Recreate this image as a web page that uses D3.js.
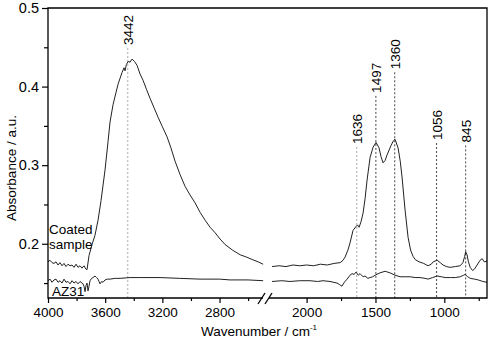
<!DOCTYPE html>
<html>
<head>
<meta charset="utf-8">
<script src="https://cdn.jsdelivr.net/npm/d3@7"></script>
<style>
  body { margin: 0; background: #fff; }
  text { font-family: "Liberation Sans", Arial, sans-serif; }
</style>
</head>
<body>
<svg id="chart" width="490" height="349"></svg>
<script>
// spectra: [wavenumber cm-1, absorbance]
var coatedHigh = [
  [4000,0.177],[3986,0.179],[3972,0.176],[3958,0.175],[3944,0.177],[3930,0.173],[3916,0.176],
  [3902,0.172],[3888,0.175],[3874,0.171],[3860,0.174],[3846,0.172],[3832,0.173],[3818,0.170],
  [3804,0.174],[3790,0.170],[3776,0.172],[3762,0.169],[3748,0.172],[3736,0.168],[3727,0.167],
  [3713,0.185],[3692,0.199],[3671,0.211],[3650,0.230],[3629,0.255],[3601,0.294],[3580,0.330],
  [3566,0.355],[3545,0.377],[3510,0.403],[3482,0.418],[3468,0.424],[3461,0.420],[3452,0.428],
  [3440,0.432],[3426,0.431],[3412,0.435],[3395,0.432],[3377,0.427],[3356,0.416],[3335,0.408],
  [3310,0.396],[3286,0.385],[3258,0.373],[3230,0.361],[3200,0.349],[3167,0.336],[3140,0.322],
  [3111,0.305],[3076,0.288],[3041,0.273],[3006,0.262],[2971,0.252],[2936,0.240],[2901,0.230],
  [2866,0.221],[2831,0.214],[2796,0.206],[2761,0.199],[2710,0.192],[2656,0.186],[2610,0.183],
  [2572,0.180],[2530,0.177],[2495,0.174]
];
var coatedLow = [
  [2251,0.171],[2200,0.172],[2150,0.171],[2100,0.173],[2050,0.172],[2000,0.173],[1950,0.172],
  [1900,0.174],[1850,0.173],[1800,0.175],[1757,0.176],[1735,0.179],[1721,0.183],[1700,0.192],
  [1685,0.201],[1663,0.217],[1641,0.222],[1630,0.224],[1619,0.221],[1605,0.228],[1590,0.239],
  [1575,0.258],[1561,0.281],[1539,0.310],[1517,0.323],[1496,0.329],[1474,0.322],[1460,0.311],
  [1445,0.303],[1430,0.306],[1416,0.313],[1387,0.325],[1370,0.331],[1358,0.333],[1336,0.322],
  [1320,0.305],[1307,0.285],[1285,0.243],[1263,0.208],[1245,0.192],[1227,0.184],[1212,0.180],
  [1183,0.177],[1150,0.175],[1118,0.172],[1095,0.174],[1081,0.177],[1052,0.179],[1030,0.176],
  [1009,0.173],[985,0.171],[958,0.170],[920,0.171],[885,0.172],[865,0.176],[852,0.184],
  [845,0.190],[835,0.186],[825,0.177],[812,0.170],[795,0.166],[780,0.168],[762,0.173],
  [740,0.179],[725,0.181],[710,0.177],[690,0.178]
];
var az31High = [
  [4000,0.153],[3986,0.155],[3972,0.151],[3958,0.154],[3944,0.155],[3930,0.151],[3916,0.153],
  [3902,0.150],[3888,0.155],[3874,0.151],[3860,0.152],[3846,0.149],[3832,0.153],[3818,0.150],
  [3804,0.152],[3790,0.149],[3776,0.152],[3762,0.150],[3755,0.149],[3748,0.146],[3741,0.139],
  [3734,0.147],[3727,0.150],[3720,0.140],[3713,0.146],[3706,0.153],[3695,0.156],[3685,0.157],
  [3671,0.159],[3660,0.157],[3650,0.155],[3643,0.152],[3636,0.149],[3625,0.152],[3615,0.151],
  [3601,0.154],[3585,0.155],[3566,0.155],[3530,0.156],[3496,0.156],[3426,0.157],[3350,0.157],
  [3216,0.157],[3080,0.156],[2936,0.155],[2800,0.155],[2726,0.154],[2600,0.154],[2495,0.153]
];
var az31Low = [
  [2251,0.152],[2180,0.153],[2121,0.152],[2050,0.153],[1975,0.153],[1920,0.152],[1881,0.153],
  [1830,0.152],[1779,0.150],[1760,0.148],[1743,0.146],[1730,0.150],[1721,0.152],[1706,0.155],
  [1685,0.160],[1670,0.162],[1655,0.161],[1641,0.164],[1625,0.160],[1612,0.162],[1590,0.158],
  [1576,0.159],[1555,0.156],[1539,0.157],[1520,0.158],[1503,0.160],[1467,0.163],[1430,0.165],
  [1394,0.163],[1358,0.160],[1321,0.158],[1285,0.158],[1248,0.158],[1212,0.157],[1176,0.157],
  [1140,0.156],[1118,0.155],[1085,0.157],[1052,0.159],[1020,0.158],[994,0.157],[955,0.157],
  [921,0.157],[885,0.158],[860,0.160],[849,0.161],[830,0.158],[812,0.156],[780,0.155],
  [754,0.154],[720,0.152],[690,0.151]
];

var peaks = [3442, 1636, 1497, 1360, 1056, 845];
var peakLabelLevel = [0.453, 0.327, 0.392, 0.422, 0.332, 0.329];
var peakFaint = [true, true, false, false, false, false];

var yTicks = [0.2, 0.3, 0.4, 0.5];
var yMinor = [0.15, 0.25, 0.35, 0.45];
var xTicksHigh = [4000, 3600, 3200, 2800];
var xMinorHigh = [3800, 3400, 3000, 2600];
var xTicksLow = [2000, 1500, 1000];
var xMinorLow = [1750, 1250, 750];

var svg = d3.select('#chart');
var plotL = 48, plotR = 487, plotT = 8, plotB = 298, brk = 266;

var xHigh = d3.scaleLinear().domain([4000, 2475]).range([plotL, brk]);
var xLow = d3.scaleLinear().domain([2295, 690]).range([brk, plotR]);
var y = d3.scaleLinear().domain([0.131, 0.5]).range([plotB, plotT]);
var xAny = w => w > 2400 ? xHigh(w) : xLow(w);

// peak marker lines
peaks.forEach(function (p, i) {
    var x = xAny(p);
    svg.append('line')
        .attr('x1', x).attr('x2', x)
        .attr('y1', y(peakLabelLevel[i]) + 3).attr('y2', plotB)
        .attr('stroke', peakFaint[i] ? '#aaa' : '#444')
        .attr('stroke-width', 1)
        .attr('stroke-dasharray', '2,2');
    svg.append('text')
        .attr('transform', 'translate(' + (x + 5) + ',' + y(peakLabelLevel[i]) + ') rotate(-90)')
        .attr('font-size', 13.5)
        .text(p);
});

// spectra
var line = function (xs) {
    return d3.line().x(d => xs(d[0])).y(d => y(d[1]));
};
[[coatedHigh, xHigh], [coatedLow, xLow], [az31High, xHigh], [az31Low, xLow]].forEach(function (s) {
    svg.append('path')
        .attr('d', line(s[1])(s[0]))
        .attr('fill', 'none')
        .attr('stroke', '#222')
        .attr('stroke-width', 1);
});

// axes
function styleAxis(g) {
    g.select('.domain').remove();
    g.attr('font-family', '"Liberation Sans", Arial, sans-serif').attr('font-size', 13.5);
    g.selectAll('line').attr('stroke', '#000').attr('stroke-width', 1.2);
    g.selectAll('text').attr('fill', '#000');
}
svg.append('g').attr('transform', 'translate(0,' + plotB + ')')
    .call(d3.axisBottom(xHigh).tickValues(xTicksHigh).tickSize(5).tickPadding(4).tickFormat(d3.format('d')))
    .call(styleAxis);
svg.append('g').attr('transform', 'translate(0,' + plotB + ')')
    .call(d3.axisBottom(xHigh).tickValues(xMinorHigh).tickSize(3).tickFormat(''))
    .call(styleAxis);
svg.append('g').attr('transform', 'translate(0,' + plotB + ')')
    .call(d3.axisBottom(xLow).tickValues(xTicksLow).tickSize(5).tickPadding(4).tickFormat(d3.format('d')))
    .call(styleAxis);
svg.append('g').attr('transform', 'translate(0,' + plotB + ')')
    .call(d3.axisBottom(xLow).tickValues(xMinorLow).tickSize(3).tickFormat(''))
    .call(styleAxis);
svg.append('g').attr('transform', 'translate(' + plotL + ',0)')
    .call(d3.axisLeft(y).tickValues(yTicks).tickSize(6).tickPadding(3).tickFormat(d3.format('.1f')))
    .call(styleAxis)
    .attr('font-size', 14.5);
svg.append('g').attr('transform', 'translate(' + plotL + ',0)')
    .call(d3.axisLeft(y).tickValues(yMinor).tickSize(4).tickFormat(''))
    .call(styleAxis);

// frame with break on the bottom axis
var frame = svg.append('g').attr('stroke', '#000').attr('stroke-width', 1.3).attr('fill', 'none');
frame.append('path').attr('d', 'M' + (brk - 3) + ',' + plotB + 'H' + plotL + 'V' + plotT + 'H' + plotR + 'V' + plotB + 'H' + (brk + 3));
frame.append('line').attr('x1', brk - 8).attr('y1', plotB + 6).attr('x2', brk - 1).attr('y2', plotB - 5);
frame.append('line').attr('x1', brk - 1).attr('y1', plotB + 6).attr('x2', brk + 6).attr('y2', plotB - 5);

// axis titles and series names
var xt = svg.append('text').attr('x', 259).attr('y', 336).attr('text-anchor', 'middle').attr('font-size', 13.5);
xt.append('tspan').text('Wavenumber / cm');
xt.append('tspan').attr('dy', -6).attr('font-size', 8).text('-1');

svg.append('text')
    .attr('transform', 'translate(16,168) rotate(-90)')
    .attr('text-anchor', 'middle')
    .attr('font-size', 13.5)
    .text('Absorbance / a.u.');

svg.append('text').attr('x', 49).attr('y', 234).attr('font-size', 13.5).text('Coated');
svg.append('text').attr('x', 49).attr('y', 249).attr('font-size', 13.5).text('sample');
svg.append('text').attr('x', 52).attr('y', 296).attr('font-size', 13.5).text('AZ31');
</script>
</body>
</html>
